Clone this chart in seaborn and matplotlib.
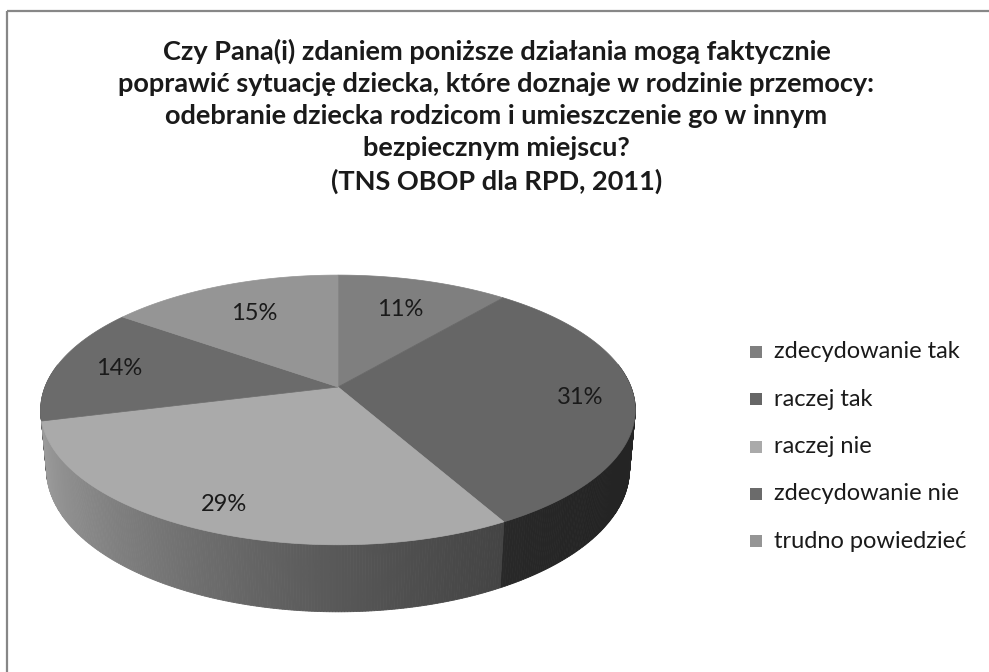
import matplotlib
matplotlib.use("Agg")
import matplotlib.pyplot as plt
import seaborn as sns
import numpy as np

# data
categories = ["zdecydowanie tak", "raczej tak", "raczej nie", "zdecydowanie nie", "trudno powiedzieć"]
values = [11, 31, 29, 14, 15]
colors = ["#7f7f7f", "#666666", "#aaaaaa", "#6b6b6b", "#959595"]
title = ("Czy Pana(i) zdaniem poniższe działania mogą faktycznie\n"
         "poprawić sytuację dziecka, które doznaje w rodzinie przemocy:\n"
         "odebranie dziecka rodzicom i umieszczenie go w innym\n"
         "bezpiecznym miejscu?\n"
         "(TNS OBOP dla RPD, 2011)")

sns.set_theme(style="white")
plt.rcParams["font.family"] = ["Lato", "DejaVu Sans"]

# 3d pie projection (pixel space)
CX, CY = 338, 387
S = 1541.0
D = 5.26
TILT = np.radians(26.55)
H = 0.229
label_r = [0.70, 0.82, 0.85, 0.78, 0.70]


def proj(phi, r=1.0, z=0.0):
    phi = np.radians(phi)
    X = r * np.sin(phi)
    Y = r * np.cos(phi)
    up = z * np.cos(TILT) + Y * np.sin(TILT)
    depth = D + Y * np.cos(TILT) - z * np.sin(TILT)
    return CX + S * X / depth, CY - S * up / depth


def shade(phi):
    f = 0.685 + 0.333 * np.cos(np.radians(phi - 300))
    return float(np.clip(f, 0.3, 1.0))


fig = plt.figure(figsize=(9.89, 6.72), dpi=100)
ax = fig.add_axes([0, 0, 1, 1])
ax.set_xlim(0, 989)
ax.set_ylim(672, 0)
ax.axis("off")

total = sum(values)
bounds = np.concatenate([[0], np.cumsum(values)]) / total * 360

# side walls, painted back to front
quads = []
for i, c in enumerate(colors):
    a0, a1 = bounds[i], bounds[i + 1]
    phis = np.linspace(a0, a1, int(np.ceil(a1 - a0)) * 2 + 2)
    base = np.array(matplotlib.colors.to_rgb(c))
    for p0, p1 in zip(phis[:-1], phis[1:]):
        pm = (p0 + p1) / 2
        if 80 <= pm <= 280:
            x0, y0 = proj(p0)
            x1, y1 = proj(p1)
            x2, y2 = proj(p1, z=-H)
            x3, y3 = proj(p0, z=-H)
            depth = np.cos(np.radians(pm))
            quads.append((depth, [x0, x1, x2, x3], [y0, y1, y2, y3], base * shade(pm)))
quads.sort(key=lambda q: -q[0])
for _, xs, ys, col in quads:
    ax.fill(xs, ys, color=col, lw=0.6, ec=col)

# top faces
for i, c in enumerate(colors):
    a0, a1 = bounds[i], bounds[i + 1]
    phis = np.linspace(a0, a1, 200)
    xs, ys = proj(phis)
    ax.fill(np.r_[CX, xs], np.r_[CY, ys], color=c, lw=0.5, ec=c)

# percent labels
for i, v in enumerate(values):
    mid = (bounds[i] + bounds[i + 1]) / 2
    lx, ly = proj(mid, r=label_r[i])
    ax.text(lx, ly, f"{v}%", ha="center", va="center", fontsize=17, color="#1a1a1a")

# legend
for i, (cat, c) in enumerate(zip(categories, colors)):
    y = 352 + i * 47.3
    ax.scatter([756], [y], marker="s", s=85, color=c, lw=0)
    ax.text(774, y, cat, ha="left", va="center", fontsize=17, color="#1a1a1a")

# title
fig.text(0.502, 1 - 38.5 / 672, title, ha="center", va="top", fontsize=19.5,
         fontweight="bold", linespacing=1.40, color="#1a1a1a")

# chart border (top & left only visible)
ax.plot([7, 989], [11, 11], color="#878787", lw=1.6, solid_capstyle="butt")
ax.plot([7, 7], [11, 672], color="#878787", lw=1.6, solid_capstyle="butt")

fig.savefig("out.png", dpi=100, facecolor="white")
